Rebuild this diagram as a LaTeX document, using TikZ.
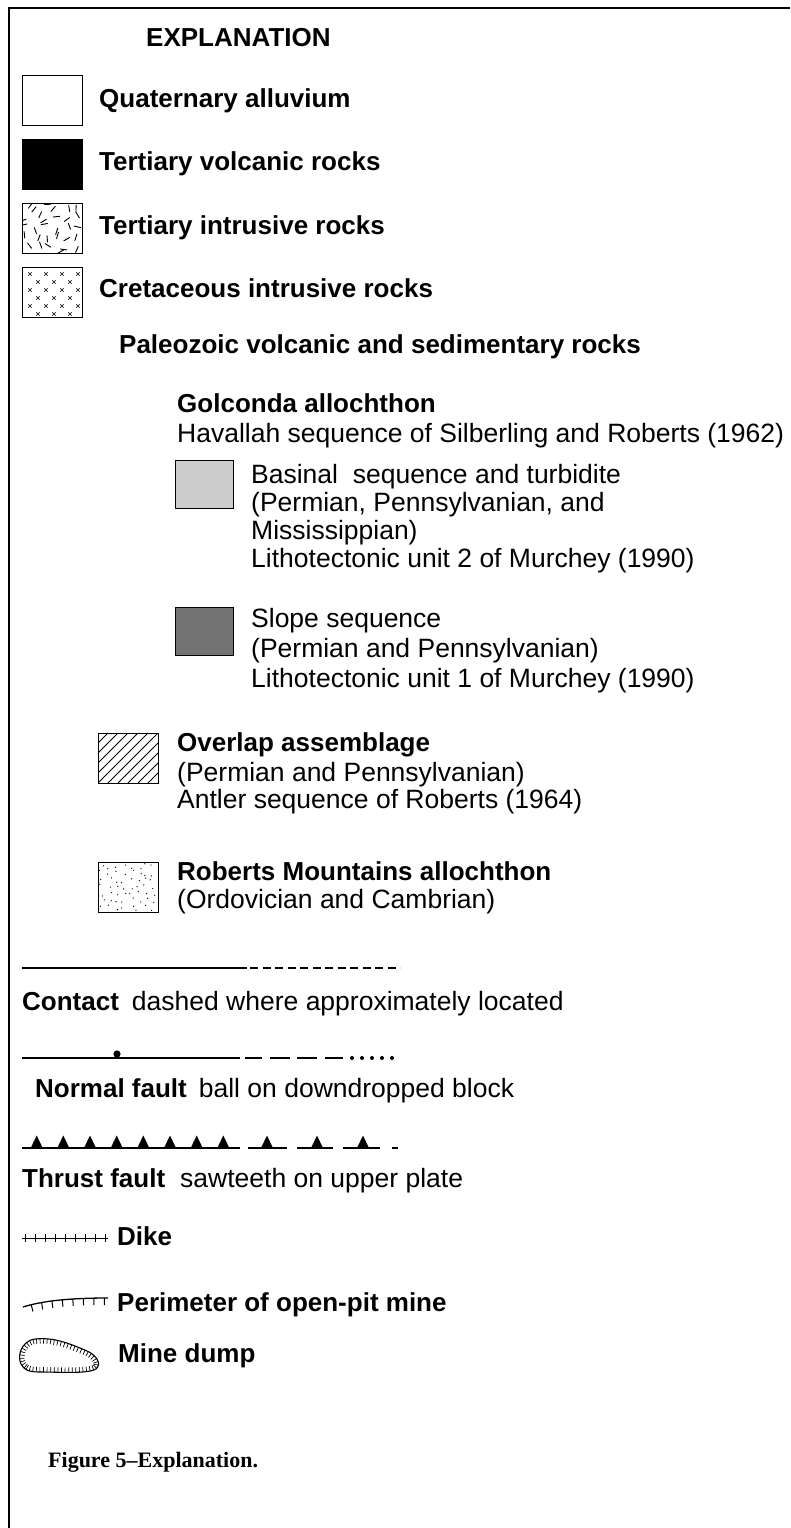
\documentclass[tikz,border=0pt]{standalone}
\usepackage{fontspec}
\setmainfont{Liberation Sans}
\newfontfamily\capfont{Liberation Serif}
\usetikzlibrary{decorations.markings}
\tikzset{
  bt/.style={anchor=base west, inner sep=0pt, font=\fontsize{26}{31}\selectfont\bfseries},
  rt/.style={anchor=base west, inner sep=0pt, font=\fontsize{26.5}{31}\selectfont},
  swatch/.style={draw, line width=1.4pt, anchor=north west, inner sep=0pt, minimum width=60pt, minimum height=50pt},
  gswatch/.style={swatch, minimum width=58pt, minimum height=48pt},
  fault/.style={line width=2.8pt},
  thin line/.style={line width=1.1pt},
  tooth/.style={fill=black},
}
\begin{document}
\begin{tikzpicture}[x=1pt,y=-1pt]
\useasboundingbox (0,0) rectangle (790,1528);
% frame (top and left edges)
\draw[line width=2.6pt] (790,8) -- (9,8) -- (9,1528);

\node[bt] (title) at (146,47) {EXPLANATION};

% Quaternary alluvium
\node[swatch] (sq) at (22,75) {};
\node[bt] (tq) at (99,107) {Quaternary alluvium};

% Tertiary volcanic
\node[swatch, fill=black] (stv) at (22,139) {};
\node[bt] (ttv) at (99,170) {Tertiary volcanic rocks};

% Tertiary intrusive
\begin{scope}
  \clip (22,203) rectangle (82,253);
  \pgfmathsetseed{17}
  \foreach \c in {0,...,5}{
    \foreach \r in {0,...,4}{
      \pgfmathsetmacro\px{27+10*\c+4*rand}
      \pgfmathsetmacro\py{208+10*\r+4*rand}
      \pgfmathsetmacro\pa{360*rnd}
      \draw[line width=0.9pt] (\px,\py) ++(\pa:3.5pt) -- ++(\pa+180:7pt);
    }
  }
\end{scope}
\node[swatch] (sti) at (22,203) {};
\node[bt] (tti) at (99,234) {Tertiary intrusive rocks};

% Cretaceous intrusive
\begin{scope}
  \clip (22,267) rectangle (82,317);
  \foreach \r in {0,...,5}{
    \foreach \c in {0,...,4}{
      \pgfmathsetmacro\px{30+16*\c+8*mod(\r,2)}
      \pgfmathsetmacro\py{274+8*\r}
      \draw[line width=0.6pt] (\px-1.7,\py-1.7) -- (\px+1.7,\py+1.7)
                              (\px-1.7,\py+1.7) -- (\px+1.7,\py-1.7);
    }
  }
\end{scope}
\node[swatch] (sk) at (22,267) {};
\node[bt] (tk) at (99,297) {Cretaceous intrusive rocks};

% Paleozoic
\node[bt] (tpz) at (119,353) {Paleozoic volcanic and sedimentary rocks};
\node[bt] (tgo) at (177,412) {Golconda allochthon};
\node[rt] (thv) at (177,442) {Havallah sequence of Silberling and Roberts (1962)};

\node[gswatch, fill=black!20] (sba) at (175,460) {};
\node[rt] (tba1) at (251,483) {Basinal\ \ sequence and turbidite};
\node[rt] (tba2) at (251,511) {(Permian, Pennsylvanian, and};
\node[rt] (tba3) at (251,539) {Mississippian)};
\node[rt] (tba4) at (251,567) {Lithotectonic unit 2 of Murchey (1990)};

\node[gswatch, fill=black!55] (ssl) at (175,607) {};
\node[rt] (tsl1) at (251,627) {Slope sequence};
\node[rt] (tsl2) at (251,657) {(Permian and Pennsylvanian)};
\node[rt] (tsl3) at (251,687) {Lithotectonic unit 1 of Murchey (1990)};

% Overlap assemblage
\begin{scope}
  \clip (98,733) rectangle (158,783);
  \foreach \k in {-60,-50,...,60}{
    \draw[line width=0.8pt] (98+\k,783) -- (98+\k+50,733);
  }
\end{scope}
\node[swatch] (sov) at (98,733) {};
\node[bt] (tov1) at (177,751) {Overlap assemblage};
\node[rt] (tov2) at (177,781) {(Permian and Pennsylvanian)};
\node[rt] (tov3) at (177,808) {Antler sequence of Roberts (1964)};

% Roberts Mountains allochthon
\begin{scope}
  \clip (98,862) rectangle (158,912);
  \pgfmathsetseed{5}
  \foreach \c in {0,...,7}{
    \foreach \r in {0,...,6}{
      \pgfmathsetmacro\px{102+7.3*\c+3*rand}
      \pgfmathsetmacro\py{866+7*\r+3*rand}
      \fill (\px,\py) circle (0.65pt);
    }
  }
\end{scope}
\node[swatch] (sro) at (98,862) {};
\node[bt] (tro1) at (177,880) {Roberts Mountains allochthon};
\node[rt] (tro2) at (177,908) {(Ordovician and Cambrian)};

% Contact
\draw[thin line] (22,968) -- (247,968);
\draw[thin line, dash pattern=on 8pt off 4.5pt] (250,968) -- (400,968);
\node[rt] (tco) at (22,1010) {\fontsize{26}{31}\selectfont\bfseries Contact\hspace{13pt}\mdseries\fontsize{26.5}{31}\selectfont dashed where approximately located};

% Normal fault
\draw[fault] (22,1058) -- (240,1058);
\fill (117,1054) circle (3.6pt);
\foreach \a/\b in {245/262,270/290,297/317,325/343}{
  \draw[fault] (\a,1058) -- (\b,1058);
}
\foreach \x in {352,362,372,382,392}{
  \fill (\x,1058) circle (2pt);
}
\node[rt] (tnf) at (35,1097) {\fontsize{26}{31}\selectfont\bfseries Normal fault\hspace{12pt}\mdseries\fontsize{26.5}{31}\selectfont ball on downdropped block};

% Thrust fault
\draw[fault] (22,1148) -- (240,1148);
\foreach \a/\b in {248/287,297/333,343/380,392/398}{
  \draw[fault] (\a,1148) -- (\b,1148);
}
\foreach \x in {36.7,63.3,90,116.7,143.3,170,196.7,223.3,267,317,363}{
  \fill[tooth] (\x-6,1148) -- (\x,1135.5) -- (\x+6,1148) -- cycle;
}
\node[rt] (ttf) at (22,1187) {\fontsize{26}{31}\selectfont\bfseries Thrust fault\hspace{15pt}\mdseries\fontsize{26.5}{31}\selectfont sawteeth on upper plate};

% Dike
\draw[line width=1pt] (22,1238) -- (108,1238);
\foreach \i in {0,...,8}{
  \draw[line width=1pt] (25+10*\i,1234) -- (25+10*\i,1242);
}
\node[bt] (tdk) at (117,1245) {Dike};

% Perimeter of open-pit mine
\draw[line width=1.3pt, postaction={decorate},
  decoration={markings, mark=between positions 0.1 and 0.99 step 10.5pt with {\draw[line width=1pt] (0pt,0pt) -- (0pt,-7pt);}}]
  (23,1307) .. controls (45,1300) and (75,1298) .. (108,1298);
\node[bt] (tpm) at (117,1311) {Perimeter of open-pit mine};

% Mine dump
\draw[line width=1.1pt, postaction={decorate},
  decoration={markings, mark=between positions 0 and 0.999 step 3.6pt with {\draw[line width=0.7pt] (0pt,0pt) -- (0pt,-5pt);}}]
  (24,1368) .. controls (15,1360) and (20,1341) .. (35,1339)
  .. controls (55,1337) and (70,1344) .. (85,1350)
  .. controls (97,1355) and (102,1364) .. (96,1369)
  .. controls (88,1374) and (60,1372) .. (40,1372)
  .. controls (32,1372) and (27,1371) .. (24,1368) -- cycle;
\node[bt] (tmd) at (118,1362) {Mine dump};

% Caption
\node[anchor=base west, inner sep=0pt, font=\capfont\fontsize{22}{26}\selectfont\bfseries] (cap) at (48,1467) {Figure 5–Explanation.};
\end{tikzpicture}
\end{document}
